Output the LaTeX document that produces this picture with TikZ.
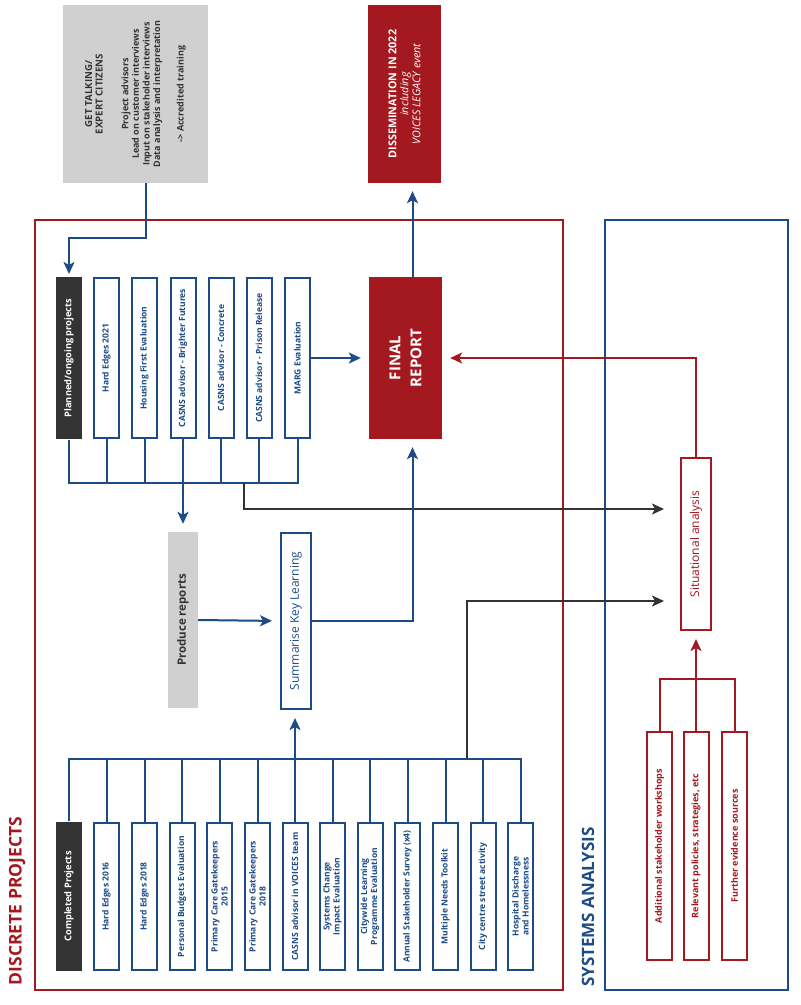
\documentclass[tikz,border=0pt]{standalone}
\usepackage{fontspec}
\setmainfont{Open Sans}
\usepackage{tikz}
\usetikzlibrary{arrows.meta}
\definecolor{vred}{HTML}{A3191F}
\definecolor{vblue}{HTML}{1D4B85}
\definecolor{vdark}{HTML}{333333}
\definecolor{vgray}{HTML}{D0D0D0}
\tikzstyle{caja}=[draw=vblue,line width=2pt,fill=white,rotate=90,inner sep=1pt,align=center,text=vblue,font=\bfseries\fontsize{8.5}{10}\selectfont,minimum height=25pt]
\tikzstyle{negra}=[caja,draw=none,fill=vdark,text=white,minimum height=26pt,font=\bfseries\fontsize{9.3}{10}\selectfont]
\tikzstyle{roja}=[caja,draw=vred,text=vred,font=\bfseries\fontsize{9}{10}\selectfont]
\tikzstyle{gris}=[rotate=90,fill=vgray,inner sep=1pt,align=center,text=vdark,font=\bfseries\fontsize{9}{10.6}\selectfont]
\tikzstyle{bloque}=[rotate=90,fill=vred,inner sep=1pt,align=center,text=white,font=\bfseries\fontsize{10.8}{12}\selectfont]
\tikzstyle{linea}=[vblue,line width=2pt]
\tikzstyle{flecha}=[linea,-{Stealth[length=12pt,width=11pt,inset=3pt]},shorten >=8pt]
\tikzstyle{flecharoja}=[flecha,vred]
\tikzstyle{flechanegra}=[flecha,vdark,shorten >=16pt]

\begin{document}
\begin{tikzpicture}[x=1pt,y=-1pt]
    \useasboundingbox (0,0) rectangle (801,1005);
    \draw [vred,line width=2pt] (35,220) rectangle (563,990);
    \draw [vblue,line width=2pt] (605,220) rectangle (788,990);
    \node [rotate=90,text=vred,font=\bfseries\fontsize{17.5}{19}\selectfont] (dtit) at (17,901) {DISCRETE PROJECTS};
    \node [rotate=90,text=vblue,font=\bfseries\fontsize{17}{19}\selectfont] (stit) at (588,907) {SYSTEMS ANALYSIS};

    \node [gris,minimum width=178pt,minimum height=145pt] (get) at (135.5,94) {{\fontsize{9.7}{10.6}\selectfont GET TALKING/}\\{\fontsize{9.7}{10.6}\selectfont EXPERT CITIZENS}\\[15pt]Project advisors\\Lead on customer interviews\\Input on stakeholder interviews\\Data analysis and interpretation\\[13pt]-> Accredited training};
    \node [bloque,minimum width=178pt,minimum height=73pt] (dis) at (404.5,94) {DISSEMINATION IN 2022\\{\mdseries\itshape including}\\{\mdseries\itshape VOICES LEGACY event}};
    \node [bloque,minimum width=162pt,minimum height=73pt,font=\bfseries\fontsize{15}{21}\selectfont] (fin) at (405.5,358) {FINAL\\REPORT};

    \node [negra,minimum width=162pt] (p0) at (69,358) {Planned/ongoing projects};
    \node [caja,minimum width=160pt] (p1) at (106.5,358) {Hard Edges 2021};
    \node [caja,minimum width=160pt] (p2) at (144.5,358) {Housing First Evaluation};
    \node [caja,minimum width=160pt] (p3) at (183,358) {CASNS advisor - Brighter Futures};
    \node [caja,minimum width=160pt] (p4) at (221,358) {CASNS advisor - Concrete};
    \node [caja,minimum width=160pt] (p5) at (259,358) {CASNS advisor - Prison Release};
    \node [caja,minimum width=160pt] (p6) at (297.5,358) {MARG Evaluation};

    \node [gris,minimum width=176pt,minimum height=30pt,font=\bfseries\fontsize{11.5}{13}\selectfont] (prod) at (183,620) {Produce reports};
    \node [caja,minimum width=176pt,minimum height=30pt,font=\fontsize{12}{13}\selectfont] (sum) at (296,621) {Summarise Key Learning};
    \node [roja,minimum width=172pt,minimum height=30pt,font=\fontsize{12}{13}\selectfont] (sit) at (696,544) {Situational analysis};

    \node [negra,minimum width=149pt] (c0) at (69,896.5) {Completed Projects};
    \node [caja,minimum width=147pt] (c1) at (106.5,896.5) {Hard Edges 2016};
    \node [caja,minimum width=147pt] (c2) at (144.5,896.5) {Hard Edges 2018};
    \node [caja,minimum width=147pt] (c3) at (182,896.5) {Personal Budgets Evaluation};
    \node [caja,minimum width=147pt] (c4) at (219.5,896.5) {Primary Care Gatekeepers\\2015};
    \node [caja,minimum width=147pt] (c5) at (257.5,896.5) {Primary Care Gatekeepers\\2018};
    \node [caja,minimum width=147pt] (c6) at (295,896.5) {CASNS advisor in VOICES team};
    \node [caja,minimum width=147pt] (c7) at (332.5,896.5) {Systems Change\\Impact Evaluation};
    \node [caja,minimum width=147pt] (c8) at (370,896.5) {Citywide Learning\\Programme Evaluation};
    \node [caja,minimum width=147pt] (c9) at (407.5,896.5) {Annual Stakeholder Survey (x4)};
    \node [caja,minimum width=147pt] (c10) at (445.5,896.5) {Multiple Needs Toolkit};
    \node [caja,minimum width=147pt] (c11) at (483,896.5) {City centre street activity};
    \node [caja,minimum width=147pt] (c12) at (520.5,896.5) {Hospital Discharge\\and Homelessness};

    \node [roja,minimum width=228pt] (r1) at (659.5,846) {Additional stakeholder workshops};
    \node [roja,minimum width=228pt] (r2) at (696,846) {Relevant policies, strategies, etc};
    \node [roja,minimum width=228pt] (r3) at (734.5,846) {Further evidence sources};

    \coordinate (gcodo) at (146,238);
    \coordinate (pbus) at (0,483);
    \coordinate (pramal) at (244,483);
    \coordinate (cbus) at (0,759);
    \coordinate (cramal) at (467,759);
    \coordinate (rbus) at (0,679);

    \draw [flecha,shorten >=2pt] (get.west -| gcodo) -- (gcodo) -| (p0.east);
    \draw [linea] (p0.west) -- (p0.west |- pbus) -- (p6.west |- pbus) -- (p6.west);
    \draw [linea] (p1.west) -- (p1.west |- pbus);
    \draw [linea] (p2.west) -- (p2.west |- pbus);
    \draw [linea] (p4.west) -- (p4.west |- pbus);
    \draw [linea] (p5.west) -- (p5.west |- pbus);
    \draw [flecha] (p3.west) -- (prod.east);
    \draw [flechanegra] (pramal) |- ([yshift=35pt]sit.north);
    \draw [flecha] (p6.south) -- (fin.north);
    \draw [flecha] (prod.south) -- (sum.north);
    \draw [flecha] (sum.south) -| ([xshift=7pt]fin.west);
    \draw [flecha] ([xshift=7pt]fin.east) -- ([xshift=7pt]fin.east |- dis.west);

    \draw [linea] (c0.east) -- (c0.east |- cbus) -- (c12.east |- cbus) -- (c12.east);
    \draw [linea] (c1.east) -- (c1.east |- cbus);
    \draw [linea] (c2.east) -- (c2.east |- cbus);
    \draw [linea] (c3.east) -- (c3.east |- cbus);
    \draw [linea] (c4.east) -- (c4.east |- cbus);
    \draw [linea] (c5.east) -- (c5.east |- cbus);
    \draw [linea] (c7.east) -- (c7.east |- cbus);
    \draw [linea] (c8.east) -- (c8.east |- cbus);
    \draw [linea] (c9.east) -- (c9.east |- cbus);
    \draw [linea] (c10.east) -- (c10.east |- cbus);
    \draw [linea] (c11.east) -- (c11.east |- cbus);
    \draw [flecha] (c6.east) -- (c6.east |- sum.west);
    \draw [flechanegra] (cramal) |- ([yshift=-57pt]sit.north);

    \draw [linea,vred] (r1.east) -- (r1.east |- rbus) -- (r3.east |- rbus) -- (r3.east);
    \draw [flecharoja] (r2.east) -- (sit.west);
    \draw [flecharoja] (sit.east) |- (fin.south);
\end{tikzpicture}
\end{document}
